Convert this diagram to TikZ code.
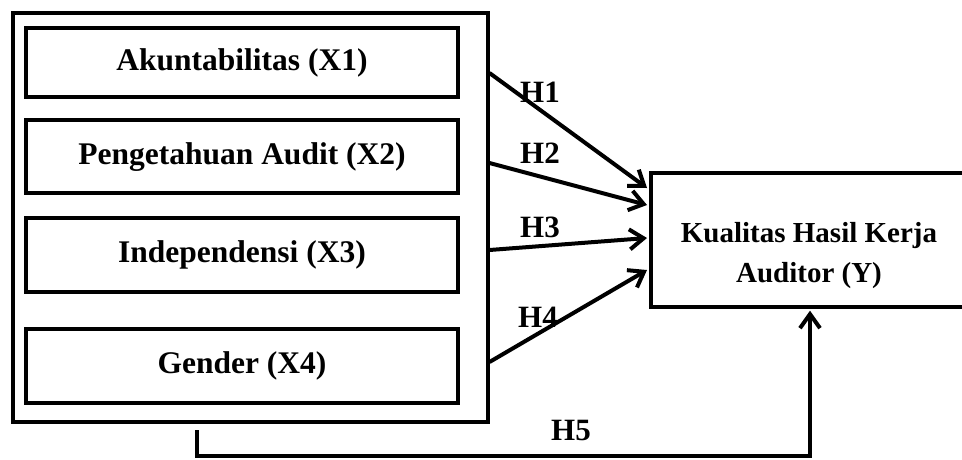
\documentclass[tikz,border=0pt]{standalone}
\usepackage{fontspec}
\setmainfont{Liberation Serif}
\usetikzlibrary{arrows.meta,calc}
\begin{document}
\begin{tikzpicture}[x=1pt,y=-1pt,line width=4pt,
  frame/.style={draw,rectangle,line width=4pt,inner sep=0pt},
  varbox/.style={frame,minimum width=432pt,font=\bfseries\fontsize{31.5}{36}\selectfont,text height=21.5pt,text depth=6.5pt},
  hlbl/.style={font=\bfseries\fontsize{31}{36}\selectfont,inner sep=0pt,anchor=base},
  arr/.style={line width=4pt,-{Straight Barb[length=14pt,width=20pt,line width=4pt]}}]
\useasboundingbox (0,0) rectangle (962,459);
\clip (0,0) rectangle (962,459);
% outer frame
\node[frame,minimum width=475pt,minimum height=409.5pt] (outer) at (250,217.5) {};
% inner boxes
\node[varbox,minimum height=69pt] (x1) at (242,62.5) {Akuntabilitas (X1)};
\node[varbox,minimum height=73pt] (x2) at (242,156.5) {Pengetahuan Audit (X2)};
\node[varbox,minimum height=74pt] (x3) at (242,255) {Independensi (X3)};
\node[varbox,minimum height=74pt] (x4) at (242,366) {Gender (X4)};
% dependent box (right edge runs off the picture)
\node[frame,minimum width=324pt,minimum height=134pt] (Y) at (813,239.7) {};
\node[font=\bfseries\fontsize{29}{40}\selectfont,align=center,inner sep=0pt] (ytext) at (809,256) {Kualitas Hasil Kerja\\Auditor (Y)};
% arrows H1-H4
\draw[arr] (outer.east |- 0,73)  -- ([xshift=-2pt]Y.west |- 0,188);
\draw[arr] (outer.east |- 0,163) -- ([xshift=-2pt]Y.west |- 0,205);
\draw[arr] (outer.east |- 0,250) -- ([xshift=-2pt]Y.west |- 0,238);
\draw[arr] (outer.east |- 0,362) -- ([xshift=-2pt]Y.west |- 0,270);
% H5
\coordinate (h5a) at (197,430);
\coordinate (h5b) at (197,456);
\coordinate (h5c) at (810,456);
\draw[arr] (h5a) -- (h5b) -- (h5c) -- ([yshift=-2pt]Y.south -| h5c);
% labels
\node[hlbl] (h1) at (540,102) {H1};
\node[hlbl] (h2) at (540,163) {H2};
\node[hlbl] (h3) at (540,237) {H3};
\node[hlbl] (h4) at (538,327) {H4};
\node[hlbl] (h5) at (571,440) {H5};
\end{tikzpicture}
\end{document}
